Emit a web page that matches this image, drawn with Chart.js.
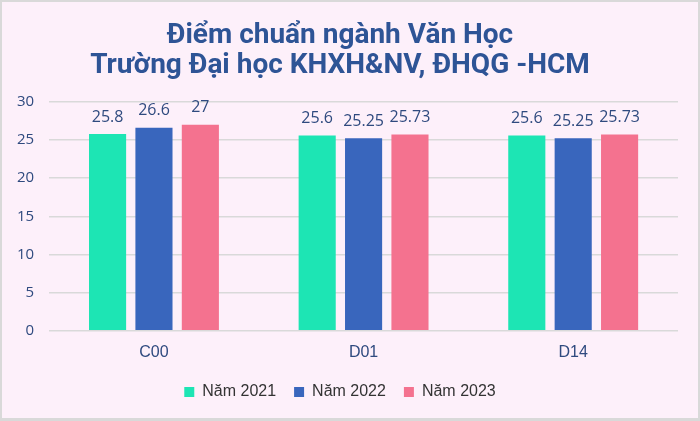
<!DOCTYPE html>
<html>
<head>
<meta charset="utf-8">
<script src="https://cdn.jsdelivr.net/npm/chart.js@4.4.0/dist/chart.umd.min.js"></script>
<style>
  html, body { margin: 0; padding: 0; }
  #wrap {
    width: 700px; height: 421px; box-sizing: border-box;
    border: 2px solid #d9d9d9; border-bottom-width: 3px;
    background: #fdf0fa;
  }
  canvas { display: block; }
</style>
</head>
<body>
<div id="wrap"><canvas id="chart" width="696" height="416"></canvas></div>
<script>
const categories = ['C00', 'D01', 'D14'];
const seriesNames = ['Năm 2021', 'Năm 2022', 'Năm 2023'];
const scores2021 = [25.8, 25.6, 25.6];
const scores2022 = [26.6, 25.25, 25.25];
const scores2023 = [27, 25.73, 25.73];
const yTicks = [0, 5, 10, 15, 20, 25, 30];

const colors = ['#1de5b4', '#3966bd', '#f4728f'];

// bar value labels above each bar
const valueLabels = {
  id: 'valueLabels',
  afterDatasetsDraw(chart) {
    const ctx = chart.ctx;
    ctx.save();
    ctx.font = '16px "Open Sans", sans-serif';
    ctx.fillStyle = '#2f4a7f';
    ctx.textAlign = 'center';
    ctx.textBaseline = 'bottom';
    chart.data.datasets.forEach((ds, i) => {
      chart.getDatasetMeta(i).data.forEach((bar, j) => {
        ctx.fillText(String(ds.data[j]), bar.x, bar.y - 9);
      });
    });
    ctx.restore();
  }
};

new Chart(document.getElementById('chart'), {
  type: 'bar',
  data: {
    labels: categories,
    datasets: [
      { label: seriesNames[0], data: scores2021, backgroundColor: colors[0] },
      { label: seriesNames[1], data: scores2022, backgroundColor: colors[1] },
      { label: seriesNames[2], data: scores2023, backgroundColor: colors[2] }
    ]
  },
  options: {
    responsive: false,
    animation: false,
    devicePixelRatio: 1,
    layout: { padding: { left: 0, right: 20, top: 9, bottom: 8 } },
    datasets: { bar: { categoryPercentage: 0.664, barPercentage: 0.8 } },
    scales: {
      x: {
        grid: { display: false },
        border: { display: false },
        ticks: { color: '#2f4a7f', font: { family: '"Liberation Sans", sans-serif', size: 16 }, padding: 4 }
      },
      y: {
        min: 0, max: 30,
        afterBuildTicks: axis => { axis.ticks = yTicks.map(v => ({ value: v })); },
        grid: { color: '#d9d9d9', drawTicks: false, lineWidth: 1.5 },
        border: { display: false },
        ticks: { color: '#2f4a7f', font: { family: '"Open Sans", sans-serif', size: 15 }, padding: 15 }
      }
    },
    plugins: {
      title: {
        display: true,
        text: ['Điểm chuẩn ngành Văn Học', 'Trường Đại học KHXH&NV, ĐHQG -HCM'],
        color: '#2e5496',
        font: { family: '"Roboto", sans-serif', size: 28, weight: 'bold', lineHeight: 1.07 },
        padding: { top: 10, bottom: 21 }
      },
      legend: {
        position: 'bottom',
        labels: {
          color: '#333',
          font: { family: '"Liberation Sans", sans-serif', size: 16 },
          boxWidth: 10, boxHeight: 10, padding: 18
        }
      },
      tooltip: { enabled: false }
    }
  },
  plugins: [valueLabels]
});
</script>
</body>
</html>
